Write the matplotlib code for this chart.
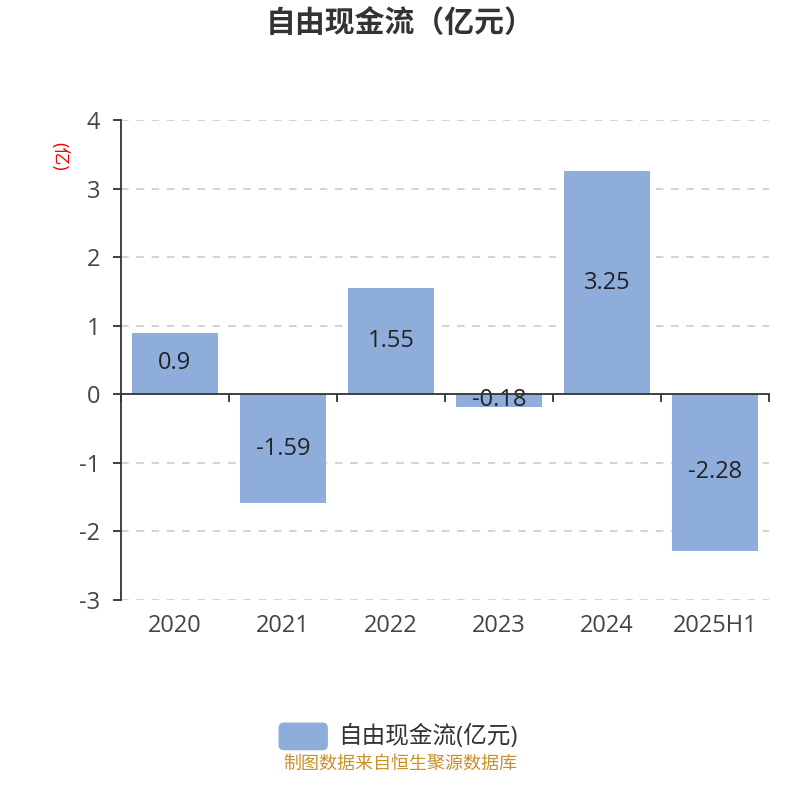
import matplotlib
matplotlib.use('Agg')
import matplotlib.pyplot as plt
import matplotlib.transforms as mtrans
from matplotlib.patches import FancyBboxPatch
import numpy as np

plt.rcParams['font.family'] = ['Open Sans', 'Noto Sans CJK SC', 'DejaVu Sans']

years = ['2020', '2021', '2022', '2023', '2024', '2025H1']
fcf = [0.9, -1.59, 1.55, -0.18, 3.25, -2.28]
yticks = [-3, -2, -1, 0, 1, 2, 3, 4]

bar_color = '#8eaddb'
axis_color = '#333333'

fig = plt.figure(figsize=(8, 8), dpi=100)
ax = fig.add_axes([0.151, 0.25, 0.81, 0.60])

x = np.arange(len(years))
bars = ax.bar(x, fcf, width=0.8, color=bar_color, zorder=3)
for xi, v in zip(x, fcf):
    ax.text(xi, v / 2, str(v), ha='center', va='center', fontsize=17,
            color='#222222', zorder=4)

ax.set_xlim(-0.5, len(years) - 0.5)
ax.set_ylim(-3, 4)
ax.set_yticks(yticks)
ax.set_yticklabels([str(t) for t in yticks], fontsize=17, color='#444444')
for t in yticks:
    if t != 0:
        ax.axhline(t, color='#c8c8c8', lw=1.1, ls=(0, (5, 5)), zorder=1)

for s in ['top', 'right']:
    ax.spines[s].set_visible(False)
ax.spines['left'].set_color(axis_color)
ax.spines['left'].set_linewidth(1.3)
ax.spines['bottom'].set_position(('data', 0))
ax.spines['bottom'].set_color(axis_color)
ax.spines['bottom'].set_linewidth(1.3)
ax.spines['bottom'].set_zorder(5)
ax.tick_params(axis='y', length=6, width=1.3, color=axis_color, pad=9)
ax.set_xticks(np.arange(len(years) + 1) - 0.5)
ax.set_xticklabels([])
ax.tick_params(axis='x', length=6, width=1.3, color=axis_color, direction='out')

trans = mtrans.blended_transform_factory(ax.transData, ax.transAxes)
for xi, lab in zip(x, years):
    ax.text(xi, -0.055, lab, transform=trans, ha='center', va='center',
            fontsize=17, color='#444444')

ax.text(-0.095, 0.925, '(亿)', transform=ax.transAxes, rotation=-90,
        ha='center', va='center', fontsize=13, color='red')

fig.text(0.5, 0.970, '自由现金流（亿元）', ha='center', va='center',
         fontsize=21.5, fontweight='bold', color='#333333')

# legend
fig.patches.append(FancyBboxPatch((0.349, 0.063), 0.06, 0.033,
                                  boxstyle='round,pad=0,rounding_size=0.006',
                                  transform=fig.transFigure, color=bar_color))
fig.text(0.423, 0.079, '自由现金流(亿元)', ha='left', va='center',
         fontsize=17, color='#333333')

fig.text(0.5, 0.045, '制图数据来自恒生聚源数据库', ha='center', va='center',
         fontsize=13, color='#c8912a')

fig.savefig('out.png', dpi=100)
